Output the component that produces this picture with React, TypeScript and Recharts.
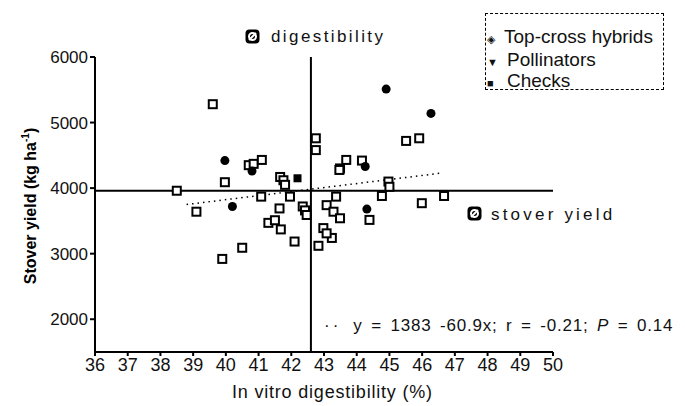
import { ScatterChart, Scatter, XAxis, YAxis, ReferenceLine } from "recharts";

// in vitro digestibility (%) and stover yield (kg/ha)
const hybridDigestibility = [
  39.6, 40.7, 40.85, 41.1, 39.97, 38.5, 39.1, 41.08, 41.66, 41.76, 41.81, 41.96, 41.64, 41.3, 41.5,
  41.68, 42.35, 42.42, 42.47, 42.75, 42.75, 40.5, 39.89, 42.1, 42.83, 45.51, 45.91, 43.49, 43.68,
  44.16, 44.97, 45.0, 44.77, 43.37, 45.99, 46.67, 43.08, 43.29, 43.49, 44.39, 42.98, 43.24, 43.08,
  43.47,
];
const hybridYield = [
  5280, 4350, 4370, 4430, 4090, 3960, 3640, 3870, 4170, 4120, 4050, 3870, 3690, 3470, 3510,
  3370, 3720, 3660, 3590, 4760, 4580, 3090, 2920, 3185, 3120, 4720, 4760, 4300, 4430,
  4420, 4100, 4020, 3880, 3870, 3770, 3880, 3740, 3640, 3540, 3515, 3390, 3240, 3310,
  4277,
];
const pollinatorDigestibility = [39.97, 40.2, 44.9, 46.27, 44.31, 44.26, 40.8];
const pollinatorYield = [4420, 3720, 5510, 5140, 3680, 4330, 4260];
const checkDigestibility = [42.19];
const checkYield = [4150];

const xTicks = [36, 37, 38, 39, 40, 41, 42, 43, 44, 45, 46, 47, 48, 49, 50];
const yTicks = [2000, 3000, 4000, 5000, 6000];

const meanDigestibility = 42.6;
const meanYield = 3960;
const trendStart = { x: 38.8, y: 3750 };
const trendEnd = { x: 46.6, y: 4230 };

const zip = (xs: number[], ys: number[]) => xs.map((x, i) => ({ x, y: ys[i] }));
const hybrids = zip(hybridDigestibility, hybridYield);
const pollinators = zip(pollinatorDigestibility, pollinatorYield);
const checks = zip(checkDigestibility, checkYield);

const font = "'Liberation Sans', Arial, sans-serif";

const OpenSquare = (p: any) => (
  <rect x={p.cx - 4} y={p.cy - 4} width={8} height={8} fill="#fff" stroke="#000" strokeWidth={2} />
);
const FilledBlob = (p: any) => <circle cx={p.cx} cy={p.cy} r={4.5} fill="#000" />;
const FilledSquare = (p: any) => <rect x={p.cx - 4} y={p.cy - 4} width={8} height={8} fill="#000" />;

const Icon = () => (
  <svg width={15} height={15} style={{ display: "block" }}>
    <rect x={0.5} y={0.5} width={14} height={14} rx={4} fill="#000" />
    <circle cx={7.5} cy={7.5} r={3.5} fill="none" stroke="#fff" strokeWidth={2} />
    <line x1={4} y1={11} x2={11} y2={4} stroke="#fff" strokeWidth={2} />
  </svg>
);

const abs = (left: number, top: number, extra: any = {}) => ({
  position: "absolute" as const,
  left,
  top,
  fontFamily: font,
  color: "#111",
  whiteSpace: "nowrap" as const,
  ...extra,
});

export default function App() {
  return (
    <div style={{ position: "absolute", left: 0, top: 0, width: 685, height: 406, background: "#fff" }}>
      <ScatterChart width={685} height={406} margin={{ top: 57, right: 132, bottom: 24, left: 35 }}>
        <XAxis
          type="number"
          dataKey="x"
          domain={[36, 50]}
          ticks={xTicks}
          interval={0}
          stroke="#000"
          strokeWidth={2}
          tickSize={4}
          height={30}
          tick={{ fill: "#111", fontSize: 18, fontFamily: font }}
        />
        <YAxis
          type="number"
          dataKey="y"
          domain={[1500, 6000]}
          ticks={yTicks}
          interval={0}
          stroke="#000"
          strokeWidth={2}
          tickSize={5}
          width={60}
          tick={{ fill: "#111", fontSize: 17, fontFamily: font }}
        />
        <ReferenceLine x={meanDigestibility} stroke="#000" strokeWidth={2} />
        <ReferenceLine y={meanYield} stroke="#000" strokeWidth={2} />
        <ReferenceLine
          segment={[trendStart, trendEnd]}
          stroke="#000"
          strokeWidth={1.5}
          strokeDasharray="1.5 4"
        />
        <Scatter data={hybrids} shape={OpenSquare} isAnimationActive={false} />
        <Scatter data={pollinators} shape={FilledBlob} isAnimationActive={false} />
        <Scatter data={checks} shape={FilledSquare} isAnimationActive={false} />
      </ScatterChart>

      <div
        style={abs(30, 206, {
          transform: "translate(-50%, -50%) rotate(-90deg)",
          fontSize: 16,
          fontWeight: "bold",
          color: "#000",
        })}
      >
        Stover yield (kg ha<sup style={{ fontSize: 10 }}>-1</sup>)
      </div>
      <div style={abs(232, 382, { fontSize: 18, letterSpacing: 0.8 })}>In vitro digestibility (%)</div>

      <div style={abs(245, 29)}>
        <Icon />
      </div>
      <div style={abs(271, 27, { fontSize: 17, letterSpacing: 2.4 })}>digestibility</div>
      <div style={abs(467, 206)}>
        <Icon />
      </div>
      <div style={abs(491, 205, { fontSize: 17, letterSpacing: 3.2 })}>stover yield</div>

      <div style={abs(324, 316, { fontSize: 17, letterSpacing: 0.8, wordSpacing: 3 })}>
        <span style={{ letterSpacing: 3, marginRight: 12 }}>··</span>y = 1383 -60.9x; r = -0.21; <i>P</i> = 0.14
      </div>

      <div
        style={{
          position: "absolute",
          left: 485,
          top: 13,
          width: 179,
          height: 77,
          border: "1.5px dashed #000",
          boxSizing: "border-box",
        }}
      />
      <div style={abs(487, 26, { fontSize: 19 })}>
        <span style={{ display: "inline-block", width: 17, fontSize: 11, textAlign: "left" }}>◈</span>Top-cross hybrids
      </div>
      <div style={abs(487, 49, { fontSize: 19 })}>
        <span style={{ display: "inline-block", width: 20, fontSize: 11, textAlign: "left" }}>▼</span>Pollinators
      </div>
      <div style={abs(487, 70, { fontSize: 19 })}>
        <span style={{ display: "inline-block", width: 20, fontSize: 11, textAlign: "left" }}>■</span>Checks
      </div>
    </div>
  );
}
